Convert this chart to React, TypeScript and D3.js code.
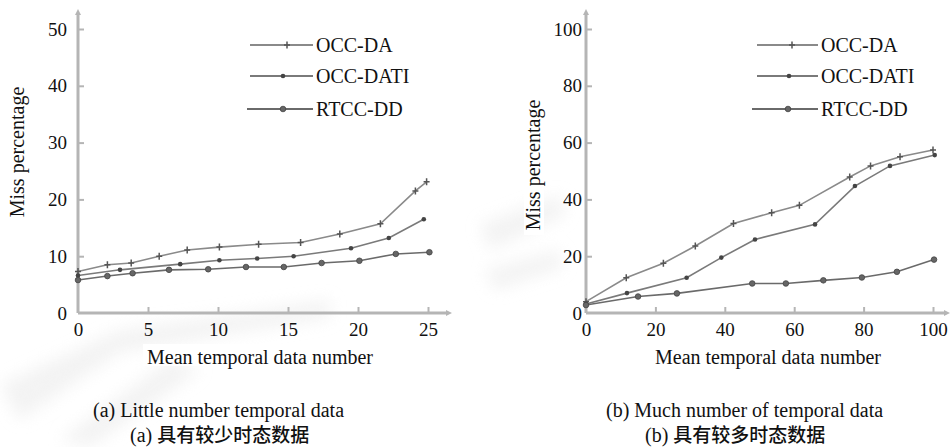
import React, { useEffect, useRef } from "react";
import * as d3 from "d3";

// series names, shared by both panels
const seriesNames = ["OCC-DA", "OCC-DATI", "RTCC-DD"];

// panel (a): little number of temporal data, [mean temporal data number, miss %]
const aOccDa: [number, number][] = [
  [0, 7.3], [2.1, 8.5], [3.8, 8.8], [5.8, 10.0], [7.8, 11.1], [10.1, 11.6],
  [12.9, 12.1], [15.9, 12.4], [18.7, 13.9], [21.6, 15.7], [24.1, 21.5], [24.9, 23.1],
];
const aOccDati: [number, number][] = [
  [0, 6.6], [3.0, 7.6], [7.3, 8.6], [10.1, 9.3], [12.8, 9.6], [15.4, 10.0],
  [19.5, 11.4], [22.2, 13.2], [24.7, 16.5],
];
const aRtccDd: [number, number][] = [
  [0, 5.8], [2.1, 6.5], [3.9, 7.0], [6.5, 7.6], [9.3, 7.7], [12.0, 8.1],
  [14.7, 8.1], [17.4, 8.8], [20.1, 9.2], [22.7, 10.4], [25.1, 10.7],
];

// panel (b): much number of temporal data
const bOccDa: [number, number][] = [
  [0, 4.0], [11.6, 12.4], [22.3, 17.5], [31.5, 23.6], [42.5, 31.5], [53.5, 35.3],
  [61.5, 37.9], [76, 47.9], [82, 51.8], [90.5, 55.0], [100, 57.4],
];
const bOccDati: [number, number][] = [
  [0, 3.2], [11.8, 7.0], [29, 12.4], [39, 19.5], [48.7, 25.9], [66, 31.2],
  [77.5, 44.7], [87.6, 51.8], [100.5, 55.6],
];
const bRtccDd: [number, number][] = [
  [0, 2.8], [15, 5.8], [26.2, 6.9], [47.9, 10.4], [57.6, 10.4], [68.4, 11.5],
  [79.5, 12.5], [89.6, 14.5], [100.3, 18.8],
];

const aXTicks = [0, 5, 10, 15, 20, 25];
const aYTicks = [0, 10, 20, 30, 40, 50];
const bXTicks = [0, 20, 40, 60, 80, 100];
const bYTicks = [0, 20, 40, 60, 80, 100];

const xTitle = "Mean temporal data number";
const yTitle = "Miss percentage";
const captionsEn = ["(a) Little number temporal data", "(b) Much number of temporal data"];
const captionsZh = ["具有较少时态数据", "具有较多时态数据"];

const serif = "'Liberation Serif', 'Times New Roman', serif";

function App() {
  const ref = useRef<SVGSVGElement>(null);

  useEffect(() => {
    drawChart();
  }, []);

  function drawChart() {
    const svg = d3.select(ref.current);
    svg.selectAll("*").remove();

    svg.append("rect").attr("width", 952).attr("height", 447).attr("fill", "#fff");

    // faint scan watermark
    const defs = svg.append("defs");
    defs.append("filter").attr("id", "blur")
      .append("feGaussianBlur").attr("stdDeviation", 8);
    const wm = svg.append("g").attr("filter", "url(#blur)").attr("fill", "#ebebeb").attr("opacity", 0.6);
    wm.append("path").attr("d", "M0,385 L120,330 L330,300 L330,318 L120,352 L20,420 Z");
    wm.append("path").attr("d", "M60,440 L170,360 L200,370 L90,447 Z");
    wm.append("path").attr("d", "M480,225 L560,195 L565,215 L490,250 Z");
    wm.append("path").attr("d", "M485,270 L560,250 L562,268 L495,290 Z");

    const panels = [
      {
        series: [aOccDa, aOccDati, aRtccDd], xTicks: aXTicks, yTicks: aYTicks,
        xr: [78, 428], xEnd: 452, yr: [313, 29], yTop: 9, yPad: 11,
        yTitleX: 24, yTitleY: 152, titleX: 147, capX: 93, zhX: 130,
        legX: [250, 313], legMark: [287, 283, 283], legStart: [250, 250, 247],
      },
      {
        series: [bOccDa, bOccDati, bRtccDd], xTicks: bXTicks, yTicks: bYTicks,
        xr: [586, 933], xEnd: 950, yr: [313, 29], yTop: 9, yPad: 4,
        yTitleX: 540, yTitleY: 165, titleX: 655, capX: 606, zhX: 645,
        legX: [757, 818], legMark: [792, 789, 788], legStart: [757, 757, 752],
      },
    ];

    panels.forEach(function (p, pi) {
      const xMax = p.xTicks[p.xTicks.length - 1];
      const yMax = p.yTicks[p.yTicks.length - 1];
      const x = d3.scaleLinear().domain([0, xMax]).range(p.xr);
      const y = d3.scaleLinear().domain([0, yMax]).range(p.yr);
      const g = svg.append("g");

      // axis lines with arrow heads
      const axisColor = "#b5b5b5";
      g.append("path")
        .attr("d", "M" + x(0) + "," + y(0) + " L" + x(0) + "," + (p.yTop + 4) + " M" + x(0) + "," + y(0) + " L" + (p.xEnd - 4) + "," + y(0))
        .attr("fill", "none").attr("stroke", axisColor).attr("stroke-width", 3);
      g.append("path")
        .attr("d", "M" + (x(0) - 3) + "," + (p.yTop + 6) + " L" + x(0) + "," + p.yTop + " L" + (x(0) + 3) + "," + (p.yTop + 6) + " Z")
        .attr("fill", axisColor);
      g.append("path")
        .attr("d", "M" + (p.xEnd - 6) + "," + (y(0) - 3) + " L" + p.xEnd + "," + y(0) + " L" + (p.xEnd - 6) + "," + (y(0) + 3) + " Z")
        .attr("fill", axisColor);

      const xAxis = d3.axisBottom(x).tickValues(p.xTicks).tickSize(-6).tickPadding(10).tickFormat(d3.format("d"));
      const yAxis = d3.axisLeft(y).tickValues(p.yTicks).tickSize(-6).tickPadding(p.yPad).tickFormat(d3.format("d"));

      const gx = g.append("g").attr("transform", "translate(0," + y(0) + ")").call(xAxis);
      const gy = g.append("g").attr("transform", "translate(" + x(0) + ",0)").call(yAxis);
      [gx, gy].forEach(function (ax) {
        ax.select(".domain").remove();
        ax.selectAll(".tick line").attr("stroke", axisColor).attr("stroke-width", 2);
        ax.selectAll(".tick text")
          .attr("fill", "#111").style("font-family", serif).style("font-size", "19px");
      });
      gx.selectAll(".tick").filter((d) => d === 0).select("line").remove();
      gy.selectAll(".tick").filter((d) => d === 0).select("line").remove();

      // axis titles
      g.append("rect").attr("x", p.yTitleX - 16).attr("y", p.yTitleY - 70)
        .attr("width", 20).attr("height", 140).attr("fill", "#fff");
      g.append("text")
        .attr("transform", "translate(" + p.yTitleX + "," + p.yTitleY + ") rotate(-90)")
        .attr("text-anchor", "middle").attr("fill", "#111")
        .style("font-family", serif).style("font-size", "20px")
        .text(yTitle);
      g.append("rect").attr("x", p.titleX - 4).attr("y", 344).attr("width", 234).attr("height", 22).attr("fill", "#fff");
      g.append("text")
        .attr("x", p.titleX).attr("y", 364).attr("fill", "#111")
        .style("font-family", serif).style("font-size", "20px")
        .text(xTitle);

      // captions
      g.append("text")
        .attr("x", p.capX).attr("y", 417).attr("fill", "#111")
        .style("font-family", serif).style("font-size", "20px")
        .text(captionsEn[pi]);
      const zh = g.append("text")
        .attr("x", p.zhX).attr("y", 442).attr("fill", "#111")
        .style("font-family", serif).style("font-size", "20px");
      zh.append("tspan").text(pi === 0 ? "(a) " : "(b) ");
      zh.append("tspan").style("font-family", "'Noto Sans CJK SC', sans-serif")
        .style("font-size", "19px").style("font-weight", 500).text(captionsZh[pi]);

      // data lines
      const line = d3.line<[number, number]>().x((d) => x(d[0])).y((d) => y(d[1]));
      const lineColors = ["#8a8a8a", "#7a7a7a", "#6a6a6a"];
      p.series.forEach(function (s, si) {
        g.append("path").datum(s).attr("d", line)
          .attr("fill", "none").attr("stroke", lineColors[si]).attr("stroke-width", 1.6);
        drawMarkers(g, s.map((d) => [x(d[0]), y(d[1])] as [number, number]), si);
      });

      // legend
      const legY = [45, 76, 109];
      seriesNames.forEach(function (name, si) {
        g.append("line")
          .attr("x1", p.legStart[si]).attr("x2", p.legX[1])
          .attr("y1", legY[si]).attr("y2", legY[si])
          .attr("stroke", lineColors[si]).attr("stroke-width", 1.8);
        drawMarkers(g, [[p.legMark[si], legY[si]]], si);
        g.append("text")
          .attr("x", p.legX[1] + 3).attr("y", legY[si] + 7).attr("fill", "#111")
          .style("font-family", serif).style("font-size", "20px")
          .text(name);
      });
    });
  }

  function drawMarkers(g: any, pts: [number, number][], si: number) {
    if (si === 0) {
      g.selectAll(null).data(pts).join("path")
        .attr("transform", (d: [number, number]) => "translate(" + d[0] + "," + d[1] + ")")
        .attr("d", "M-3,0 L3,0 M0,-3.5 L0,3.5")
        .attr("stroke", "#555").attr("stroke-width", 1.5);
    } else if (si === 1) {
      g.selectAll(null).data(pts).join("circle")
        .attr("cx", (d: [number, number]) => d[0]).attr("cy", (d: [number, number]) => d[1])
        .attr("r", 2.3).attr("fill", "#444");
    } else {
      g.selectAll(null).data(pts).join("circle")
        .attr("cx", (d: [number, number]) => d[0]).attr("cy", (d: [number, number]) => d[1])
        .attr("r", 2.8).attr("fill", "#666").attr("stroke", "#444").attr("stroke-width", 0.8);
    }
  }

  return (
    <div style={{ position: "absolute", left: 0, top: 0 }}>
      <svg ref={ref} width={952} height={447} style={{ display: "block" }} />
    </div>
  );
}

export default App;
